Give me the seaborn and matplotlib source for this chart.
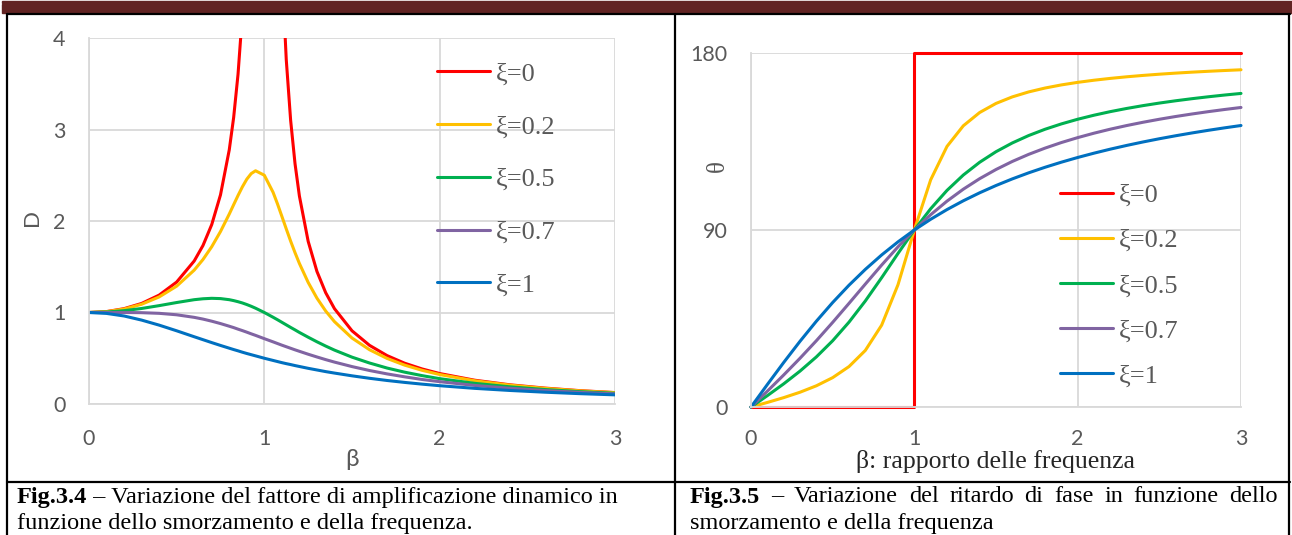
import matplotlib
matplotlib.use('Agg')
import matplotlib.pyplot as plt
import seaborn as sns
from matplotlib.lines import Line2D
from matplotlib.patches import Rectangle

W, H = 1292, 535

# --- Fig.3.4 data: dynamic amplification factor D vs beta ---
beta_d = [0, 0.1, 0.2, 0.3, 0.4, 0.5, 0.6, 0.65, 0.7, 0.75, 0.8, 0.825, 0.85,
          0.875, 0.9, 0.925, 0.95, 1.0, 1.05, 1.075, 1.1, 1.125, 1.15, 1.175, 1.2,
          1.25, 1.3, 1.35, 1.4, 1.5, 1.6, 1.7, 1.8, 1.9, 2.0, 2.2, 2.4, 2.6, 2.8,
          3.0]
d_xi0 = [1.0, 1.010, 1.042, 1.099, 1.190, 1.333, 1.563, 1.732, 1.961, 2.286, 2.778,
         3.131, 3.604, 4.267, 5.263, 6.926, 10.26, float('nan'), 9.756, 6.426, 4.762,
         3.765, 3.101, 2.627, 2.273, 1.778, 1.449, 1.216, 1.042, 0.800, 0.641,
         0.529, 0.446, 0.383, 0.333, 0.260, 0.210, 0.174, 0.146, 0.125]
d_xi02 = [1.0, 1.009, 1.038, 1.090, 1.170, 1.288, 1.463, 1.579, 1.719, 1.885, 2.076,
          2.178, 2.279, 2.374, 2.457, 2.518, 2.549, 2.500, 2.313, 2.187, 2.051,
          1.914, 1.780, 1.654, 1.536, 1.329, 1.157, 1.016, 0.900, 0.721, 0.593,
          0.498, 0.425, 0.368, 0.322, 0.254, 0.206, 0.171, 0.144, 0.124]
d_xi05 = [1.0, 1.005, 1.020, 1.044, 1.075, 1.109, 1.140, 1.150, 1.155, 1.152, 1.140,
          1.130, 1.118, 1.104, 1.087, 1.068, 1.047, 1.000, 0.948, 0.921, 0.893,
          0.865, 0.837, 0.810, 0.782, 0.730, 0.680, 0.633, 0.589, 0.512, 0.448,
          0.393, 0.348, 0.310, 0.277, 0.226, 0.188, 0.158, 0.135, 0.117]
d_xi07 = [1.0, 1.000, 1.000, 0.998, 0.991, 0.975, 0.947, 0.928, 0.905, 0.879, 0.850,
          0.835, 0.818, 0.802, 0.785, 0.767, 0.750, 0.714, 0.679, 0.661, 0.643,
          0.626, 0.609, 0.592, 0.576, 0.544, 0.514, 0.485, 0.458, 0.409, 0.366,
          0.329, 0.297, 0.268, 0.244, 0.203, 0.172, 0.147, 0.127, 0.111]
d_xi1 = [1.0, 0.990, 0.962, 0.917, 0.862, 0.800, 0.735, 0.703, 0.671, 0.640, 0.610,
         0.595, 0.581, 0.566, 0.552, 0.539, 0.526, 0.500, 0.476, 0.464, 0.452,
         0.441, 0.431, 0.420, 0.410, 0.390, 0.372, 0.354, 0.338, 0.308, 0.281,
         0.257, 0.236, 0.217, 0.200, 0.171, 0.148, 0.129, 0.113, 0.100]

# --- Fig.3.5 data: phase lag theta (deg) vs beta ---
beta_t = [0, 0.1, 0.2, 0.3, 0.4, 0.5, 0.6, 0.7, 0.8, 0.9, 1.0, 1.1, 1.2, 1.3, 1.4,
          1.5, 1.6, 1.7, 1.8, 1.9, 2.0, 2.1, 2.2, 2.3, 2.4, 2.5, 2.6, 2.7, 2.8,
          2.9, 3.0]
beta_step = [0, 1, 1, 3]
t_xi0 = [0, 0, 180, 180]
t_xi02 = [0, 2.31, 4.76, 7.51, 10.78, 14.93, 20.56, 28.77, 41.63, 62.18, 90,
          115.51, 132.51, 143.00, 149.74, 154.36, 157.69, 160.21, 162.18, 163.77,
          165.07, 166.16, 167.09, 167.90, 168.60, 169.22, 169.77, 170.26, 170.70,
          171.10, 171.47]
t_xi05 = [0, 5.77, 11.77, 18.25, 25.46, 33.69, 43.15, 53.92, 65.77, 78.08, 90,
          100.81, 110.14, 117.96, 124.44, 129.81, 134.27, 138.03, 141.22, 143.94,
          146.31, 148.37, 150.19, 151.80, 153.24, 154.54, 155.71, 156.77, 157.74,
          158.63, 159.44]
t_xi07 = [0, 8.05, 16.26, 24.78, 33.69, 43.03, 52.70, 62.50, 72.18, 81.43, 90,
          97.77, 104.68, 110.76, 116.10, 120.76, 124.86, 128.46, 131.63, 134.46,
          136.97, 139.23, 141.27, 143.11, 144.78, 146.31, 147.71, 148.99, 150.18,
          151.28, 152.30]
t_xi1 = [0, 11.42, 22.62, 33.40, 43.60, 53.13, 61.93, 69.98, 77.32, 83.97, 90,
         95.45, 100.39, 104.86, 108.92, 112.62, 115.99, 119.07, 121.89, 124.48,
         126.87, 129.07, 131.11, 133.00, 134.76, 136.40, 137.92, 139.35, 140.69,
         141.95, 143.13]

labels = ['ξ=0', 'ξ=0.2', 'ξ=0.5', 'ξ=0.7', 'ξ=1']
colors = ['#FF0000', '#FFC000', '#00B050', '#8064A2', '#0070C0']

sns.set_theme(style='white')
plt.rcParams['font.family'] = ['Lato', 'DejaVu Sans']

GRID = '#D9D9D9'
TXT = '#595959'
SERIF = ['Liberation Serif', 'DejaVu Serif']
LEG = 19


def px_axes(x0, y0, x1, y1):
    return [x0 / W, 1 - y1 / H, (x1 - x0) / W, (y1 - y0) / H]


def style_axes(ax, pad_y, pad_x):
    ax.grid(True, color=GRID, linewidth=1.3)
    ax.set_axisbelow(True)
    for s in ['top', 'right']:
        ax.spines[s].set_visible(False)
    for s in ['left', 'bottom']:
        ax.spines[s].set_color(GRID)
        ax.spines[s].set_linewidth(1.3)
    ax.tick_params(axis='both', length=0, labelsize=15.5, labelcolor=TXT)
    ax.tick_params(axis='y', pad=pad_y)
    ax.tick_params(axis='x', pad=pad_x)
    ax.set_facecolor('white')


fig = plt.figure(figsize=(W / 100, H / 100), dpi=100)

# left chart
ax1 = fig.add_axes(px_axes(89, 38, 615, 404))
for lab, col, ys in zip(labels, colors, [d_xi0, d_xi02, d_xi05, d_xi07, d_xi1]):
    sns.lineplot(x=beta_d, y=ys, ax=ax1, color=col, label=lab, linewidth=2.2,
                 estimator=None, sort=False)
ax1.set_xlim(0, 3)
ax1.set_ylim(0, 4)
ax1.set_xticks([0, 1, 2, 3])
ax1.set_yticks([0, 1, 2, 3, 4])
style_axes(ax1, 17, 18)
ax1.set_xlabel('β', fontsize=17.5, color=TXT)
ax1.xaxis.set_label_coords(0.5, -0.123)
ax1.set_ylabel('D', fontsize=16, color=TXT)
ax1.yaxis.set_label_coords(-0.089, 0.51)
ax1.legend(loc='upper left', bbox_to_anchor=(0.6616, 0.934), frameon=False,
           prop={'family': SERIF, 'size': LEG}, labelcolor=TXT,
           handlelength=2.0, handletextpad=0.22, labelspacing=1.11,
           borderpad=0, borderaxespad=0)

# right chart
ax2 = fig.add_axes(px_axes(751, 53, 1241, 407))
sns.lineplot(x=beta_step, y=t_xi0, ax=ax2, color=colors[0], label=labels[0],
             linewidth=2.2, estimator=None, sort=False, clip_on=False)
for lab, col, ys in zip(labels[1:], colors[1:], [t_xi02, t_xi05, t_xi07, t_xi1]):
    sns.lineplot(x=beta_t, y=ys, ax=ax2, color=col, label=lab, linewidth=2.2,
                 estimator=None, sort=False, clip_on=False)
ax2.set_xlim(0, 3)
ax2.set_ylim(0, 180)
ax2.set_xticks([0, 1, 2, 3])
ax2.set_yticks([0, 90, 180])
style_axes(ax2, 17, 16)
ax2.set_xlabel('β: rapporto delle frequenza', fontsize=18.5, color='#262626',
               family=SERIF)
ax2.xaxis.set_label_coords(0.5, -0.122)
ax2.set_ylabel('θ', fontsize=18, color=TXT, family=SERIF)
ax2.yaxis.set_label_coords(-0.045, 0.681)
ax2.legend(loc='upper left', bbox_to_anchor=(0.6306, 0.632), frameon=False,
           prop={'family': SERIF, 'size': LEG}, labelcolor=TXT,
           handlelength=2.0, handletextpad=0.22, labelspacing=0.825,
           borderpad=0, borderaxespad=0)

# page decoration: header band and table borders
def fx(x):
    return x / W


def fy(y):
    return 1 - y / H


fig.add_artist(Rectangle((fx(2), fy(2.8)), fx(1290), 1.3 / H, color='#622423',
                         transform=fig.transFigure))
fig.add_artist(Rectangle((fx(2), fy(12.8)), fx(1290), 8.3 / H, color='#622423',
                         transform=fig.transFigure))
for (x0, y0, x1, y1) in [(7, 14, 1290, 14), (7, 14, 7, 535), (675, 14, 675, 535),
                         (1289, 14, 1289, 535), (7, 482, 1290, 482)]:
    fig.add_artist(Line2D([fx(x0), fx(x1)], [fy(y0), fy(y1)], color='black',
                          linewidth=1.6, transform=fig.transFigure))

# captions
fig.canvas.draw()
renderer = fig.canvas.get_renderer()
CAP = 17.5


def word_width(s, weight):
    t = fig.text(0, 0, s, fontsize=CAP, family=SERIF, fontweight=weight)
    w = t.get_window_extent(renderer).width
    t.remove()
    return w


def runs(x, y, parts):
    for s, weight in parts:
        fig.text(fx(x), fy(y), s, fontsize=CAP, family=SERIF, fontweight=weight,
                 va='center', ha='left', color='black')
        x += word_width(s, weight)


runs(17, 497, [('Fig.3.4', 'bold'),
               (' – Variazione del fattore di amplificazione dinamico in', 'normal')])
runs(17, 523, [('funzione dello smorzamento e della frequenza.', 'normal')])

words = [('Fig.3.5', 'bold'), ('–', 'normal'), ('Variazione', 'normal'),
         ('del', 'normal'), ('ritardo', 'normal'), ('di', 'normal'),
         ('fase', 'normal'), ('in', 'normal'), ('funzione', 'normal'),
         ('dello', 'normal')]
widths = [word_width(s, w) for s, w in words]
gap = (1278 - 690 - sum(widths)) / (len(words) - 1)
x = 690
for (s, w), wd in zip(words, widths):
    fig.text(fx(x), fy(497), s, fontsize=CAP, family=SERIF, fontweight=w,
             va='center', ha='left', color='black')
    x += wd + gap
runs(690, 523, [('smorzamento e della frequenza', 'normal')])

fig.savefig('out.png', dpi=100, facecolor='white')
